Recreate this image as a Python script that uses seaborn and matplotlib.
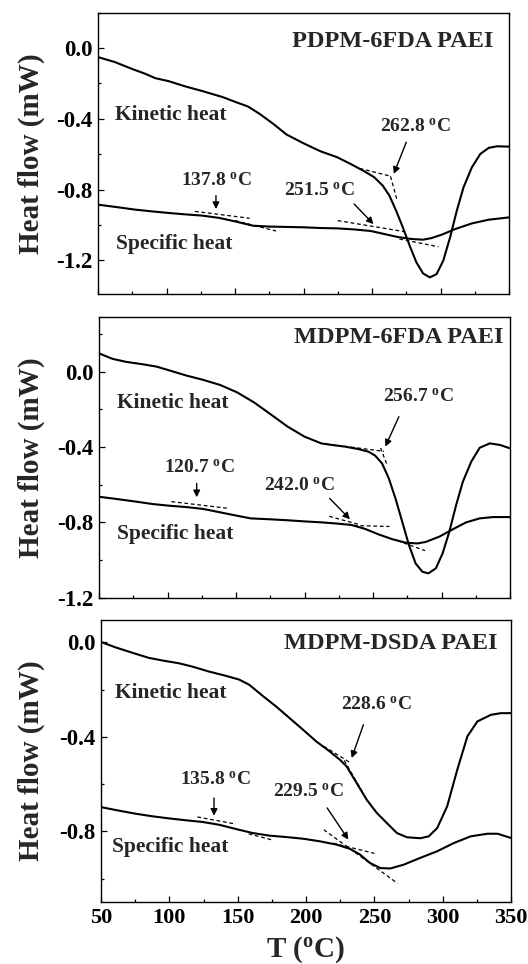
import numpy as np
import pandas as pd
import matplotlib
matplotlib.use("Agg")
import matplotlib.pyplot as plt
import seaborn as sns
from matplotlib.ticker import MultipleLocator

# ---------------- data ----------------
# Panel 1: PDPM-6FDA PAEI
p1_T_kin = [50.0, 62.3, 74.6, 84.4, 91.8, 101.6, 113.9, 126.2, 141.0, 150.8, 159.4, 168.0, 177.9,
            187.7, 200.0, 212.3, 224.6, 234.4, 244.3, 251.6, 257.8, 262.7, 267.6, 272.5, 277.5,
            282.4, 287.3, 292.2, 297.1, 302.0, 307.0, 311.9, 316.8, 322.9, 329.1, 335.2, 341.4, 350.0]
p1_kin = [-0.051, -0.079, -0.117, -0.145, -0.170, -0.187, -0.217, -0.243, -0.277, -0.306, -0.330,
          -0.372, -0.428, -0.489, -0.538, -0.583, -0.617, -0.655, -0.696, -0.730, -0.777, -0.834,
          -0.919, -1.013, -1.117, -1.211, -1.274, -1.296, -1.278, -1.202, -1.070, -0.919, -0.787,
          -0.674, -0.598, -0.564, -0.555, -0.557]
p1_T_sp = [50.0, 64.8, 77.0, 89.3, 101.6, 113.9, 126.2, 138.5, 150.8, 163.1, 175.4, 187.7, 200.0,
           212.3, 224.6, 236.9, 249.2, 259.0, 268.8, 278.7, 287.3, 293.4, 300.8, 310.7, 322.9,
           335.2, 350.0]
p1_sp = [-0.885, -0.900, -0.913, -0.923, -0.932, -0.940, -0.947, -0.960, -0.981, -1.004, -1.009,
         -1.011, -1.013, -1.017, -1.019, -1.025, -1.034, -1.051, -1.068, -1.079, -1.083, -1.074,
         -1.055, -1.023, -0.991, -0.970, -0.957]
p1_tangents = [([120.8, 160.7], [-0.923, -0.962]), ([150.0, 180.0], [-0.975, -1.034]),
               ([225.0, 274.0], [-0.975, -1.038]), ([270.0, 298.5], [-1.079, -1.123]),
               ([241.0, 264.0], [-0.680, -0.725]), ([263.5, 268.5], [-0.725, -0.865])]
p1_arrows = [((136.1, -0.834), (136.1, -0.910)), ((236.9, -0.881), (251.1, -0.995)),
             ((275.0, -0.532), (265.9, -0.711))]
p1_notes = [("137.8", 136.6, -0.749), ("251.5", 211.6, -0.806), ("262.8", 281.6, -0.447)]
p1_kin_label = (62.3, -0.381)
p1_sp_label = (63.5, -1.108)

# Panel 2: MDPM-6FDA PAEI
p2_T_kin = [50.0, 59.8, 69.7, 82.0, 91.8, 101.6, 113.9, 126.2, 138.5, 150.8, 163.1, 175.4, 187.7,
            200.0, 212.3, 219.7, 229.5, 239.3, 246.7, 251.6, 256.6, 261.5, 266.4, 271.3, 276.2,
            281.1, 286.0, 290.4, 295.9, 300.8, 305.7, 310.7, 315.6, 321.7, 327.9, 335.2, 342.6, 350.0]
p2_kin = [0.097, 0.068, 0.052, 0.039, 0.027, 0.006, -0.021, -0.044, -0.071, -0.110, -0.163, -0.227,
          -0.292, -0.345, -0.381, -0.389, -0.398, -0.411, -0.425, -0.446, -0.487, -0.566, -0.673,
          -0.796, -0.920, -1.018, -1.062, -1.071, -1.044, -0.965, -0.850, -0.708, -0.584, -0.478,
          -0.404, -0.381, -0.389, -0.407]
p2_T_sp = [50.0, 64.8, 77.0, 89.3, 101.6, 113.9, 126.2, 138.5, 150.8, 160.7, 175.4, 187.7, 200.0,
           212.3, 224.6, 234.4, 244.3, 254.1, 263.9, 273.8, 282.4, 288.5, 298.4, 308.2, 318.0,
           327.9, 337.7, 350.0]
p2_sp = [-0.664, -0.678, -0.690, -0.703, -0.712, -0.719, -0.729, -0.747, -0.765, -0.779, -0.784,
         -0.789, -0.795, -0.800, -0.807, -0.814, -0.835, -0.864, -0.889, -0.908, -0.912, -0.904,
         -0.876, -0.837, -0.800, -0.779, -0.772, -0.772]
p2_tangents = [([102.9, 144.7], [-0.690, -0.726]),
               ([218.0, 240.0], [-0.768, -0.812]), ([236.0, 262.0], [-0.817, -0.822]),
               ([268.0, 288.0], [-0.898, -0.950]),
               ([215.0, 258.0], [-0.383, -0.423]), ([255.5, 260.0], [-0.405, -0.490])]
p2_arrows = [((121.3, -0.593), (121.3, -0.667)), ((218.4, -0.673), (233.2, -0.784)),
             ((268.9, -0.239), (259.0, -0.398))]
p2_notes = [("120.7", 123.0, -0.513), ("242.0", 196.3, -0.605), ("256.7", 282.9, -0.136)]
p2_kin_label = (63.5, -0.168)
p2_sp_label = (63.5, -0.864)

# Panel 3: MDPM-DSDA PAEI
p3_T_kin = [50.5, 60.3, 72.6, 84.9, 94.7, 107.0, 116.8, 129.0, 141.3, 151.1, 158.5, 168.3, 178.2,
            188.0, 197.8, 207.6, 217.4, 224.8, 229.7, 237.1, 244.4, 251.8, 259.2, 266.5, 273.9,
            283.7, 289.8, 296.0, 303.3, 310.7, 318.1, 325.4, 335.3, 342.6, 350.0]
p3_kin = [0.0, -0.021, -0.044, -0.066, -0.077, -0.089, -0.103, -0.124, -0.142, -0.158, -0.180,
          -0.227, -0.272, -0.321, -0.370, -0.420, -0.462, -0.497, -0.525, -0.596, -0.666, -0.722,
          -0.765, -0.807, -0.825, -0.829, -0.821, -0.786, -0.694, -0.539, -0.398, -0.335, -0.307,
          -0.300, -0.300]
p3_T_sp = [50.5, 62.8, 75.0, 87.3, 99.6, 111.9, 124.1, 136.4, 148.7, 161.0, 173.2, 185.5, 197.8,
           210.1, 222.3, 232.2, 239.5, 246.9, 254.3, 261.6, 271.4, 283.7, 296.0, 308.3, 320.5,
           332.8, 340.2, 350.0]
p3_sp = [-0.698, -0.712, -0.725, -0.736, -0.745, -0.753, -0.760, -0.772, -0.790, -0.807, -0.818,
         -0.824, -0.831, -0.842, -0.856, -0.874, -0.898, -0.934, -0.955, -0.957, -0.941, -0.912,
         -0.884, -0.849, -0.821, -0.810, -0.810, -0.828]
p3_tangents = [([120.5, 148.7], [-0.739, -0.769]), ([158.0, 175.0], [-0.810, -0.836]),
               ([213.0, 267.0], [-0.793, -1.020]), ([220.0, 250.0], [-0.850, -0.893]),
               ([213.0, 232.0], [-0.440, -0.508]), ([228.0, 242.0], [-0.500, -0.640])]
p3_arrows = [((132.7, -0.659), (132.7, -0.734)), ((215.5, -0.701), (231.0, -0.835)),
             ((242.0, -0.349), (233.4, -0.490))]
p3_notes = [("135.8", 134.0, -0.584), ("229.5", 202.0, -0.635), ("228.6", 251.8, -0.265)]
p3_kin_label = (60.3, -0.215)
p3_sp_label = (57.9, -0.866)

titles = ["PDPM-6FDA PAEI", "MDPM-6FDA PAEI", "MDPM-DSDA PAEI"]
y_ticks = [[0.0, -0.4, -0.8, -1.2], [0.0, -0.4, -0.8, -1.2], [0.0, -0.4, -0.8]]
x_ticks = [50, 100, 150, 200, 250, 300, 350]

# ---------------- style ----------------
sns.set_theme(style="ticks")
plt.rcParams["font.family"] = ["Liberation Serif", "DejaVu Serif"]
plt.rcParams["font.weight"] = "bold"
plt.rcParams["mathtext.fontset"] = "custom"
plt.rcParams["mathtext.rm"] = "Liberation Serif:bold"
plt.rcParams["mathtext.bf"] = "Liberation Serif:bold"
plt.rcParams["mathtext.it"] = "Liberation Serif:bold"

fig = plt.figure(figsize=(5.28, 9.64), dpi=100)
W, H = 528.0, 964.0
boxes = [(98, 509, 12.7, 294.0), (99, 510, 317.0, 597.7), (101, 511, 620.0, 902.3)]
ylims = [(-1.39, 0.20), (-1.20, 0.29), (-1.10, 0.094)]
title_pos = [(0.963, 0.897), (0.984, 0.926), (0.967, 0.915)]

panels = [
    (p1_T_kin, p1_kin, p1_T_sp, p1_sp, p1_tangents, p1_arrows, p1_notes, p1_kin_label, p1_sp_label),
    (p2_T_kin, p2_kin, p2_T_sp, p2_sp, p2_tangents, p2_arrows, p2_notes, p2_kin_label, p2_sp_label),
    (p3_T_kin, p3_kin, p3_T_sp, p3_sp, p3_tangents, p3_arrows, p3_notes, p3_kin_label, p3_sp_label),
]

for i, (Tk, yk, Ts, ys, tang, arrows, notes, kl, sl) in enumerate(panels):
    l, r, t, b = boxes[i]
    ax = fig.add_axes([l / W, 1 - b / H, (r - l) / W, (b - t) / H])
    ax.set_facecolor("white")
    dk = pd.DataFrame({"T": Tk, "hf": yk})
    ds = pd.DataFrame({"T": Ts, "hf": ys})
    sns.lineplot(data=dk, x="T", y="hf", ax=ax, color="black", lw=1.5, sort=False, estimator=None)
    sns.lineplot(data=ds, x="T", y="hf", ax=ax, color="black", lw=1.5, sort=False, estimator=None)
    for xs, yv in tang:
        ax.plot(xs, yv, color="black", lw=0.9, linestyle=(0, (3, 2.2)))
    for (tx, ty), (hx, hy) in arrows:
        ax.annotate("", xy=(hx, hy), xytext=(tx, ty),
                    arrowprops=dict(arrowstyle="-|>", color="black", lw=1.0,
                                    mutation_scale=10, shrinkA=0, shrinkB=0))
    for txt, nx, ny in notes:
        ax.text(nx, ny, txt + r" $^{\mathbf{o}}$C", ha="center", va="center",
                fontsize=14, fontweight="bold")
    ax.text(kl[0], kl[1], "Kinetic heat", ha="left", va="center", fontsize=15.5, fontweight="bold")
    ax.text(sl[0], sl[1], "Specific heat", ha="left", va="center", fontsize=15.5, fontweight="bold")
    ax.text(title_pos[i][0], title_pos[i][1], titles[i], transform=ax.transAxes,
            ha="right", va="center", fontsize=17.5, fontweight="bold")

    ax.set_xlim(50, 350)
    ax.set_ylim(*ylims[i])
    ax.set_xticks(x_ticks)
    ax.xaxis.set_minor_locator(MultipleLocator(25))
    ax.set_yticks(y_ticks[i])
    ax.yaxis.set_minor_locator(MultipleLocator(0.2))
    ax.set_yticklabels(["%.1f" % v for v in y_ticks[i]])
    ax.tick_params(which="both", direction="in", top=False, right=False,
                   labelsize=16.5, pad=4, width=0.9, colors="black")
    ax.tick_params(axis="x", labelsize=16)
    ax.tick_params(which="major", length=4.5)
    ax.tick_params(which="minor", length=2.5)
    for lab in ax.get_yticklabels() + ax.get_xticklabels():
        lab.set_fontweight("bold")
    if i < 2:
        ax.set_xticklabels([])
    ax.set_xlabel("")
    ax.set_ylabel("")
    for s in ax.spines.values():
        s.set_linewidth(1.0)
        s.set_color("black")
        s.set_visible(True)
    fig.text(31 / W, 1 - ((t + b) / 2) / H, "Heat flow (mW)", rotation=90,
             ha="center", va="center", fontsize=21, fontweight="bold")

fig.text(306 / W, 1 - 950 / H, r"T ($^{\mathbf{o}}$C)", ha="center", va="center",
         fontsize=21, fontweight="bold")

fig.savefig("out.png", dpi=100, facecolor="white")
